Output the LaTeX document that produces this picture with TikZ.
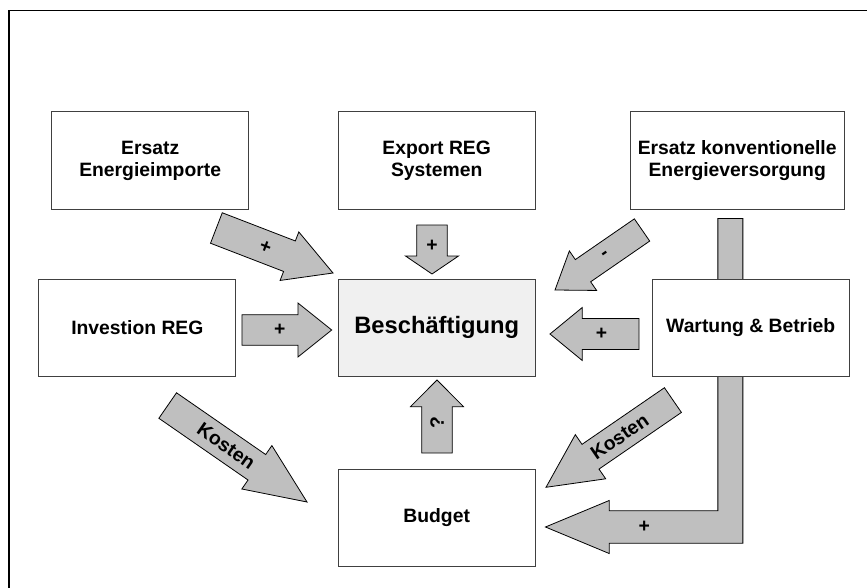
\documentclass[tikz,border=0pt]{standalone}
\usepackage{fontspec}
\setmainfont{Liberation Sans}
\usetikzlibrary{positioning, backgrounds}

% fat arrow: name, tip, direction, length, head length, shaft width, head width, text, text angle
\newcommand{\fatarrow}[9]{%
  \begin{scope}[shift={#2}, rotate=#3]
    \filldraw[fatline] (0,0) -- (-#5pt,0.5*#7pt) -- (-#5pt,0.5*#6pt) -- (-#4pt,0.5*#6pt)
      -- (-#4pt,-0.5*#6pt) -- (-#5pt,-0.5*#6pt) -- (-#5pt,-0.5*#7pt) -- cycle;
    \node[lbl, rotate=#9] (#1) at (-0.58*#4pt,0) {#8};
  \end{scope}}

\begin{document}
\begin{tikzpicture}[
    x=0.75pt, y=-0.75pt,
    box/.style={rectangle, draw=black!75, line width=0.75pt, fill=white, align=center,
        minimum width=147.75pt, minimum height=72.75pt,
        font=\bfseries\fontsize{14.5}{16.5}\selectfont},
    fatline/.style={draw=black, line width=0.6pt, fill=black!25},
    lbl/.style={inner sep=0pt, font=\bfseries\fontsize{14.5}{16}\selectfont}
]
\useasboundingbox (0,0) rectangle (867,588);
\draw[line width=1pt] (9,588) -- (9,10.3) -- (867,10.3);

\node[box, fill=black!6, font=\bfseries\fontsize{17.8}{20}\selectfont] (besch) at (436.7,327.5) {Beschäftigung};
\node[box] (export) [above=51.75pt of besch] {Export REG\\Systemen};
\node[box] (import) [left=66.4pt of export] {Ersatz\\Energieimporte};
\node[box, minimum width=160.5pt] (konv) [right=70.5pt of export] {Ersatz konventionelle\\Energieversorgung};
\node[box] (invest) [left=76pt of besch] {Investion REG};
\node[box] (wartung) [right=87pt of besch] {Wartung \& Betrieb};
\node[box] (budget) [below=69pt of besch] {Budget};

% arrows into Beschaeftigung
\fatarrow{a1}{(333,273)}{-21.1}{93.75}{35}{24.5}{39}{+}{-21.1}
\fatarrow{a2}{(432,274)}{-90}{36.75}{13.5}{23}{39.75}{+}{0}
\fatarrow{a3}{(555,290)}{214.6}{79.3}{25.5}{20.25}{36}{-}{34.6}
\fatarrow{a4}{(331.7,330)}{0}{67.3}{25.3}{23}{40.5}{+}{0}
\fatarrow{a5}{(550,334)}{180}{66.75}{24.2}{23.25}{39.75}{+}{0}
\fatarrow{a6}{(437,380)}{90}{54.75}{20}{23}{39.75}{?}{90}

% arrows into Budget
\fatarrow{a7}{(307,502)}{-34.7}{127.1}{45.75}{23.25}{39.6}{Kosten}{-34.7}
\fatarrow{a8}{(546,487.3)}{214.5}{115.5}{40.5}{22.5}{40.2}{Kosten}{34.5}

\begin{scope}[on background layer]
\filldraw[fatline]
    ([xshift=-14.5pt, yshift=-6.75pt]konv.south) -- ++(25,0) -- ++(0,324.7)
    -- ++(-133.7,0) -- ++(0,10.3) -- ++(-63.7,-26.5) -- ++(63.7,-26.5)
    -- ++(0,10.3) -- ++(108.7,0) -- cycle;
\node[lbl] (lplus) at (644.3,526.7) {+};
\end{scope}
\end{tikzpicture}
\end{document}
